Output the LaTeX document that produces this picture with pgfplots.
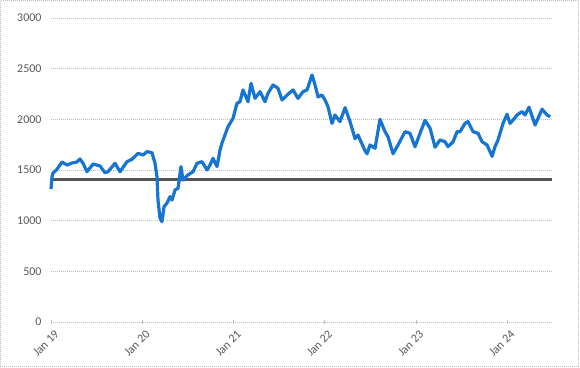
\documentclass[border=0pt]{standalone}
\usepackage{fontspec}
\setmainfont{Carlito}
\usepackage{pgfplots}
\pgfplotsset{compat=1.18}
\definecolor{lineblue}{RGB}{22,116,210}
\definecolor{refgray}{RGB}{85,85,85}
\definecolor{ticktext}{RGB}{89,89,89}
\definecolor{gridc}{RGB}{190,190,190}
\begin{document}
\begin{tikzpicture}
\begin{axis}[
  scale only axis,
  width=501bp, height=304bp,
  xmin=2019, xmax=2024.493,
  ymin=0, ymax=3000,
  ytick={0,500,1000,1500,2000,2500,3000},
  xtick={2019,2020,2021,2022,2023,2024},
  xticklabels={Jan 19,Jan 20,Jan 21,Jan 22,Jan 23,Jan 24},
  axis line style={draw=none},
  ymajorgrids,
  major grid style={gridc, line width=0.6bp, dash pattern=on 1bp off 1bp},
  tick pos=left,
  ytick style={draw=none},
  xtick style={gridc, line width=0.6bp},
  tick align=center,
  major tick length=4bp,
  /pgf/number format/assume math mode=true,
  /pgf/number format/1000 sep={},
  ticklabel style={font=\fontsize{12}{14}\selectfont, text=ticktext},
  yticklabel style={xshift=-4bp},
  xticklabel style={rotate=45, anchor=east, xshift=1.5bp, yshift=-10bp},
  clip=false,
]
\addplot[refgray, line width=3bp] coordinates {(2019,1410) (2024.493,1410)};
\addplot[lineblue, line width=3.2bp, line join=round] coordinates {
(2019.000,1312) (2019.011,1434) (2019.022,1470) (2019.060,1500) (2019.121,1579) (2019.175,1549)
(2019.230,1569) (2019.285,1579) (2019.318,1609) (2019.351,1566) (2019.395,1483)
(2019.461,1559) (2019.537,1540) (2019.592,1473) (2019.625,1483) (2019.702,1566)
(2019.757,1483) (2019.833,1582) (2019.888,1606) (2019.954,1665) (2020.009,1648)
(2020.053,1681) (2020.107,1671) (2020.140,1569) (2020.162,1434) (2020.173,1204)
(2020.195,1026) (2020.217,990) (2020.239,1138) (2020.272,1174) (2020.305,1237)
(2020.327,1204) (2020.360,1303) (2020.393,1319) (2020.425,1533) (2020.447,1401)
(2020.502,1451) (2020.557,1483) (2020.601,1566) (2020.656,1582) (2020.711,1500)
(2020.743,1549) (2020.776,1615) (2020.820,1533) (2020.853,1697) (2020.875,1766)
(2020.941,1928) (2020.996,2010) (2021.039,2158) (2021.072,2174) (2021.105,2290)
(2021.160,2174) (2021.193,2355) (2021.237,2207) (2021.292,2273) (2021.346,2174)
(2021.379,2256) (2021.434,2339) (2021.489,2306) (2021.533,2191) (2021.588,2240)
(2021.654,2290) (2021.708,2207) (2021.763,2273) (2021.807,2290) (2021.862,2438)
(2021.895,2339) (2021.928,2220) (2021.971,2240) (2022.004,2191) (2022.037,2125)
(2022.081,1960) (2022.114,2043) (2022.169,1977) (2022.224,2115) (2022.279,1977)
(2022.333,1810) (2022.366,1845) (2022.443,1690) (2022.465,1660) (2022.498,1747)
(2022.553,1714) (2022.607,2000) (2022.662,1878) (2022.695,1829) (2022.750,1660)
(2022.805,1747) (2022.882,1878) (2022.936,1862) (2022.991,1730) (2023.046,1862)
(2023.101,1990) (2023.156,1911) (2023.211,1725) (2023.265,1796) (2023.320,1779)
(2023.353,1730) (2023.408,1779) (2023.452,1878) (2023.485,1878) (2023.539,1960)
(2023.572,1977) (2023.627,1878) (2023.682,1862) (2023.726,1779) (2023.781,1747)
(2023.836,1635) (2023.868,1730) (2023.901,1796) (2023.956,1960) (2024.000,2050)
(2024.033,1960) (2024.066,1993) (2024.110,2043) (2024.164,2076) (2024.197,2043)
(2024.241,2120) (2024.307,1944) (2024.340,2010) (2024.384,2100) (2024.439,2043)
(2024.472,2026)
};
\end{axis}
\useasboundingbox ([xshift=-51bp,yshift=-46bp]current axis.south west) rectangle ([xshift=28bp,yshift=18bp]current axis.north east);
\draw[gridc, line width=0.6bp, dash pattern=on 1bp off 1bp] ([xshift=-50.5bp,yshift=-44bp]current axis.south west) rectangle ([xshift=26bp,yshift=17.5bp]current axis.north east);
\end{tikzpicture}
\end{document}
